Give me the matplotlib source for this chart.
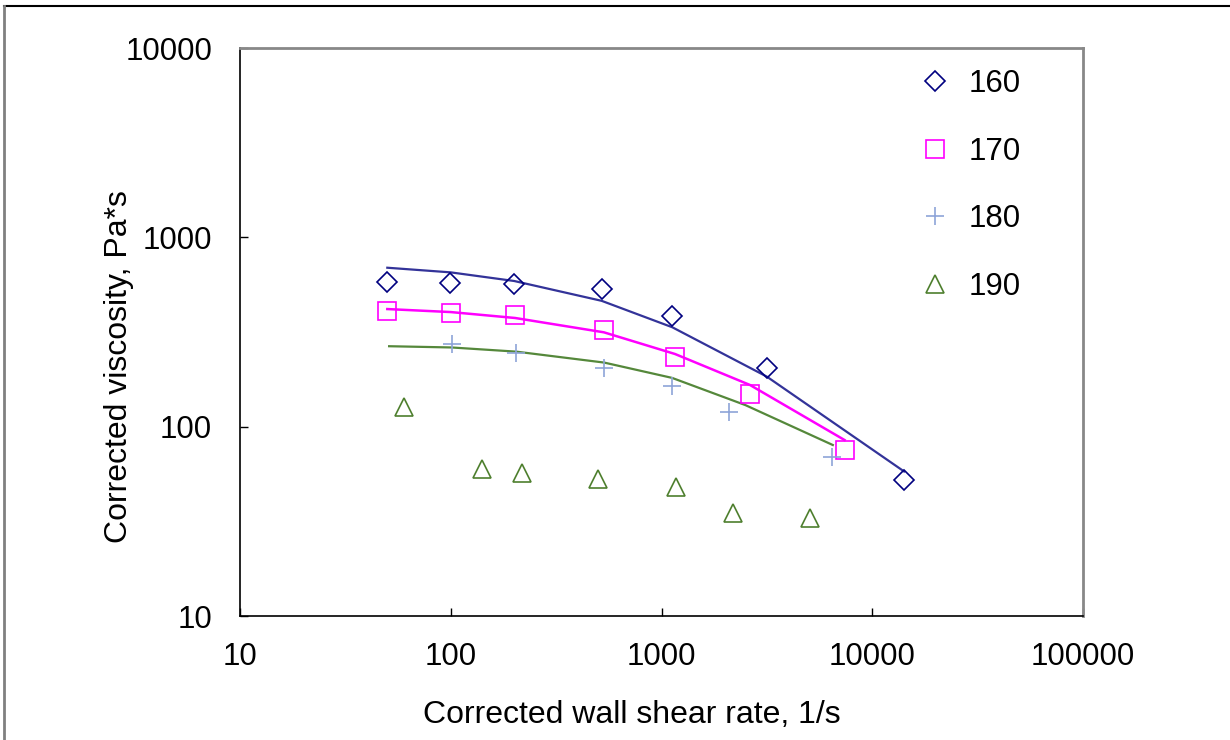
import matplotlib
matplotlib.use("Agg")
import matplotlib.pyplot as plt
from matplotlib.lines import Line2D

plt.rcParams["font.family"] = ["Liberation Sans", "DejaVu Sans"]

# measured points
x160 = [50, 99, 199, 520, 1125, 3155, 14160]
y160 = [579, 574, 569, 533, 383, 203, 52]
x170 = [50, 100, 202, 533, 1159, 2630, 7390]
y170 = [407, 398, 387, 323, 234, 149, 75]
x180 = [101, 205, 535, 1122, 2097, 6430]
y180 = [272, 246, 205, 164, 120, 69]
x190 = [60, 140, 217, 501, 1172, 2178, 5080]
y190 = [127, 60, 57, 53, 48, 35, 33]

# model fit curves
fit160_x = [50, 100, 200, 520, 1125, 3155, 14160]
fit160_y = [691, 653, 588, 462, 335, 184, 58]
fit170_x = [50, 100, 202, 533, 1159, 2630, 7390]
fit170_y = [418, 403, 375, 315, 242, 166, 85]
fit180_x = [51, 101, 205, 535, 1122, 2500, 6500]
fit180_y = [266, 262, 249, 218, 181, 130, 80]

labels = ["160", "170", "180", "190"]

fig = plt.figure(figsize=(12.3, 7.4), dpi=100)
ax = fig.add_axes([240 / 1230, 1 - 616 / 740, 843 / 1230, 568 / 740])

ax.plot(fit160_x, fit160_y, color="#333399", lw=1.6)
ax.plot(fit170_x, fit170_y, color="#FF00FF", lw=1.8)
ax.plot(fit180_x, fit180_y, color="#55883B", lw=1.6)

ax.plot(x160, y160, "D", ms=10.3, mfc="none", mec="#000080", mew=1.2, ls="none", label=labels[0])
ax.plot(x170, y170, "s", ms=13.5, mfc="none", mec="#FF00FF", mew=1.2, ls="none", label=labels[1])
ax.plot(x180, y180, "+", ms=13.5, mec="#8EA4D8", mew=1.2, ls="none", label=labels[2])
ax.plot(x190, y190, "^", ms=13.5, mfc="none", mec="#4E7F2E", mew=1.2, ls="none", label=labels[3])

ax.set_xscale("log")
ax.set_yscale("log")
ax.set_xlim(10, 100000)
ax.set_ylim(10, 10000)
ax.set_xticks([10, 100, 1000, 10000, 100000])
ax.set_xticklabels(["10", "100", "1000", "10000", "100000"])
ax.set_yticks([10, 100, 1000, 10000])
ax.set_yticklabels(["10", "100", "1000", "10000"])
ax.minorticks_off()
ax.tick_params(axis="both", direction="in", length=6, width=1, labelsize=22.5)
ax.tick_params(axis="x", pad=19)
ax.tick_params(axis="y", pad=20)

for s in ["left", "bottom"]:
    ax.spines[s].set_color("black")
    ax.spines[s].set_linewidth(1.2)
for s in ["top", "right"]:
    ax.spines[s].set_color("#888888")
    ax.spines[s].set_linewidth(2)

ax.set_xlabel("Corrected wall shear rate, 1/s", fontsize=23, va="center")
ax.xaxis.set_label_coords(0.4644, -0.175)
ax.set_ylabel("Corrected viscosity, Pa*s", fontsize=23, va="center")
ax.yaxis.set_label_coords(-0.1435, 0.44)

ax.legend(loc="upper left", bbox_to_anchor=(0.773, 1.012), frameon=False, fontsize=22.5,
          labelspacing=1.2, handlelength=1.0, handletextpad=0.55)

# outer border like the source image
fig.add_artist(Line2D([4 / 1230, 1], [1 - 6 / 740, 1 - 6 / 740], color="black", lw=1.5))
fig.add_artist(Line2D([4 / 1230, 4 / 1230], [0, 1 - 6 / 740], color="#808080", lw=2))

fig.savefig("out.png", dpi=100)
